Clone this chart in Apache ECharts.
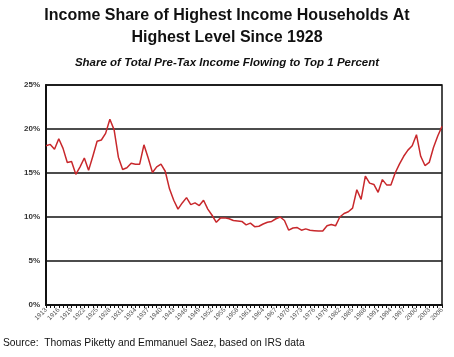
<!DOCTYPE html>
<html><head><meta charset="utf-8">
<script src="https://cdn.jsdelivr.net/npm/echarts@6/dist/echarts.min.js"></script>
<style>html,body{margin:0;padding:0;background:#fff}#c{width:454px;height:357px}</style>
</head><body><div id="c"></div>
<script>
const years = [];
for (let y = 1913; y <= 2006; y++) years.push(String(y));
const topSharePct = [
18.1,18.25,17.7,18.9,17.8,16.2,16.3,14.85,15.7,16.7,
15.3,16.9,18.6,18.75,19.5,21.1,19.9,16.8,15.4,15.6,
16.1,16.0,16.0,18.2,16.7,15.05,15.7,16.0,15.2,13.2,
11.9,10.9,11.6,12.2,11.4,11.6,11.3,11.9,10.9,10.2,
9.4,9.9,9.9,9.8,9.6,9.55,9.5,9.1,9.3,8.9,
8.95,9.2,9.4,9.5,9.8,10.0,9.6,8.5,8.75,8.8,
8.5,8.65,8.5,8.45,8.4,8.4,9.0,9.15,9.0,10.0,
10.4,10.6,11.0,13.1,12.0,14.65,13.85,13.7,12.8,14.25,
13.65,13.65,15.0,16.0,16.9,17.6,18.1,19.35,16.9,15.85,
16.2,17.9,19.2,20.3
];
const yTicks = [0,5,10,15,20,25];
const titleText = 'Income Share of Highest Income Households At\nHighest Level Since 1928';
const subtitleText = 'Share of Total Pre-Tax Income Flowing to Top 1 Percent';
const sourceText = 'Source:  Thomas Piketty and Emmanuel Saez, based on IRS data';

const chart = echarts.init(document.getElementById('c'), null, {renderer:'canvas'});
chart.setOption({
  animation:false,
  backgroundColor:'#fff',
  title:[
    {text:titleText, left:'center', top:0, itemGap:0,
     textStyle:{fontFamily:'Liberation Sans, Arial', fontWeight:'bold', fontSize:16, lineHeight:22, color:'#111'}},
    {text:subtitleText, left:'center', top:52,
     textStyle:{fontFamily:'Liberation Sans, Arial', fontWeight:'bold', fontStyle:'italic', fontSize:11.5, color:'#111'}},
    {text:sourceText, left:-2, top:333,
     textStyle:{fontFamily:'Liberation Sans, Arial', fontWeight:'normal', fontSize:10.3, color:'#111'}}
  ],
  grid:{left:46, right:12, top:85, bottom:52, show:true, borderColor:'#111', borderWidth:1.5, backgroundColor:'transparent'},
  xAxis:{type:'category', data:years, boundaryGap:false,
    axisLine:{lineStyle:{color:'#111', width:2}},
    axisTick:{show:true, interval:0, length:3, lineStyle:{color:'#111', width:1}},
    axisLabel:{interval:2, rotate:45, fontSize:6.5, color:'#555', margin:4, fontFamily:'Liberation Sans, Arial'},
    splitLine:{show:false}},
  yAxis:{type:'value', min:0, max:25, interval:5,
    axisLine:{show:true, lineStyle:{color:'#111', width:2}},
    axisTick:{show:false},
    axisLabel:{formatter:v=>v+'%', fontSize:8, fontWeight:'bold', color:'#333', margin:6, fontFamily:'Liberation Sans, Arial'},
    splitLine:{lineStyle:{color:'#111', width:1.5}}},
  series:[{type:'line', data:topSharePct, showSymbol:false, symbol:'none',
    lineStyle:{color:'#c8282c', width:1.5}}]
});
</script></body></html>
